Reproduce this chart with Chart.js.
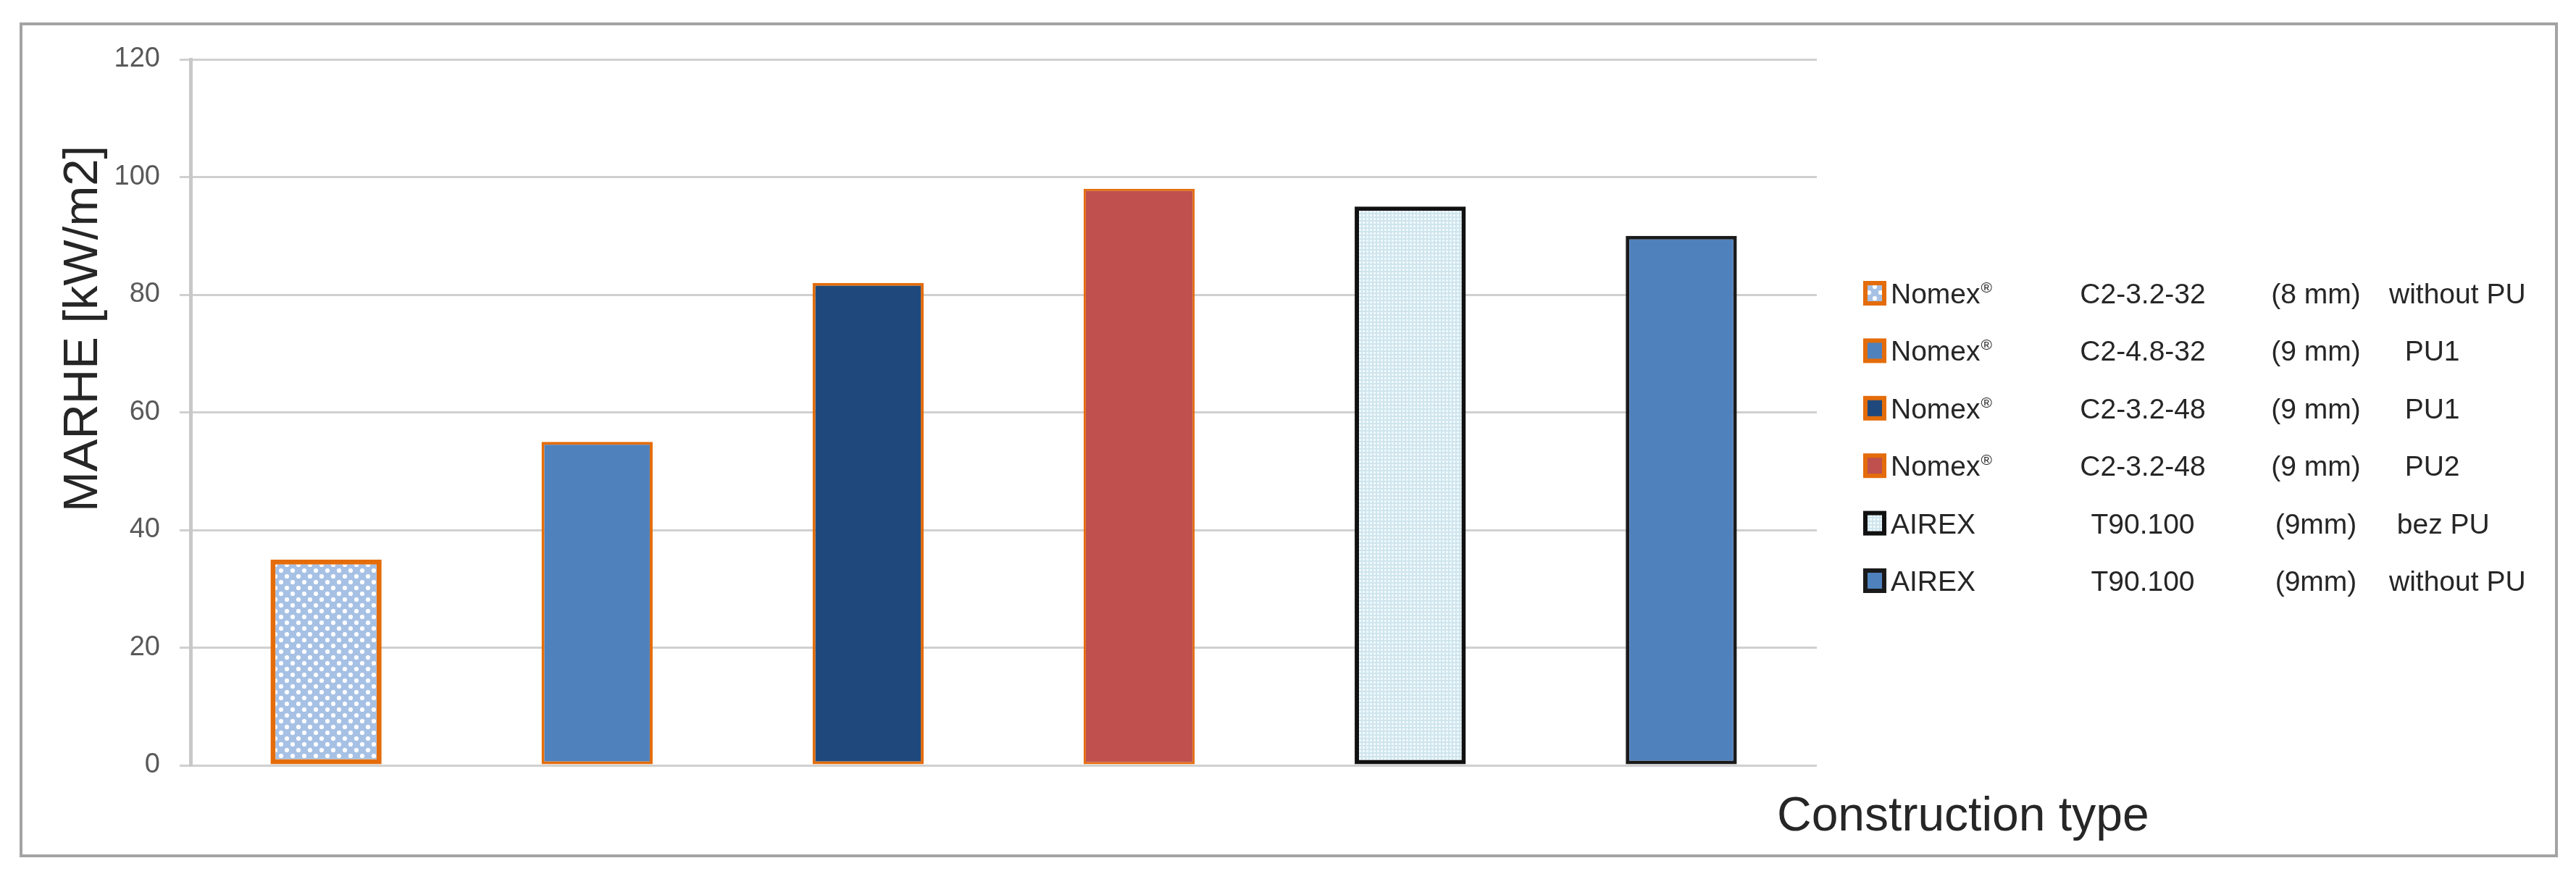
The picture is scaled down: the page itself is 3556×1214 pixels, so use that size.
<!DOCTYPE html>
<html>
<head>
<meta charset="utf-8">
<title>MARHE by construction type</title>
<script src="https://cdn.jsdelivr.net/npm/chart.js@4.4.1/dist/chart.umd.min.js"></script>
<style>
  html, body { margin: 0; padding: 0; background: #ffffff; }
  #wrap { width: 3556px; height: 1214px; }
</style>
</head>
<body>
<div id="wrap"><canvas id="marheChart" width="3556" height="1214"></canvas></div>
<script>
// values
const legendMaterial = ["Nomex®", "Nomex®", "Nomex®", "Nomex®", "AIREX", "AIREX"];
const legendCode = ["C2-3.2-32", "C2-4.8-32", "C2-3.2-48", "C2-3.2-48", "T90.100", "T90.100"];
const legendCore = ["(8 mm)", "(9 mm)", "(9 mm)", "(9 mm)", "(9mm)", "(9mm)"];
const legendNote = ["without PU", "  PU1", "  PU1", "  PU2", " bez PU", "without PU"];
const marhe = [35, 55, 82, 98, 95, 90];
const yTicks = [0, 20, 40, 60, 80, 100, 120];
const yTitle = "MARHE [kW/m2]";
const xTitle = "Construction type";

const categories = legendMaterial.map((m, i) =>
  [m, legendCode[i], legendCore[i], legendNote[i].trim()].join(" ")
);

const FONT = "'Liberation Sans', Arial, sans-serif";
const canvas = document.getElementById("marheChart");
const ctx = canvas.getContext("2d");

// dotted fill of the first bar (white dots on light blue)
const makeDots = () => {
  const t = document.createElement("canvas");
  t.width = 16;
  t.height = 16;
  const g = t.getContext("2d");
  g.fillStyle = "#a7c1e5";
  g.fillRect(0, 0, 16, 16);
  g.fillStyle = "#ffffff";
  [[4, 4], [12, 12]].forEach(([x, y]) => {
    g.beginPath();
    g.arc(x, y, 3.1, 0, Math.PI * 2);
    g.fill();
  });
  return ctx.createPattern(t, "repeat");
};

// fine grid fill of the AIREX bar without PU
const makeFine = () => {
  const t = document.createElement("canvas");
  t.width = 5;
  t.height = 5;
  const g = t.getContext("2d");
  g.fillStyle = "#cfe5ee";
  g.fillRect(0, 0, 5, 5);
  g.fillStyle = "#f1f9fb";
  g.fillRect(1, 1, 3, 3);
  return ctx.createPattern(t, "repeat");
};

const fills = [makeDots(), "#4f81bd", "#1f497d", "#c0504d", makeFine(), "#4f81bd"];
const edges = ["#e46c0a", "#e46c0a", "#e46c0a", "#e46c0a", "#111111", "#1a1a1a"];
const edgeWidths = [7, 4, 4, 3, 6, 5];

const framePlugin = {
  id: "frame",
  beforeDraw(chart) {
    const c = chart.ctx;
    c.save();
    c.fillStyle = "#ffffff";
    c.fillRect(0, 0, chart.width, chart.height);
    c.strokeStyle = "#a3a3a3";
    c.lineWidth = 4;
    c.strokeRect(29, 33, 3500, 1149);
    c.restore();
  },
};

const titlesPlugin = {
  id: "titles",
  afterDraw(chart) {
    const c = chart.ctx;
    c.save();
    c.fillStyle = "#262626";
    c.font = "67px " + FONT;
    c.textBaseline = "alphabetic";

    // y title, rotated
    c.save();
    c.translate(134, 454);
    c.rotate(-Math.PI / 2);
    c.textAlign = "center";
    c.fillText(yTitle, 0, 0);
    c.restore();

    c.font = "66px " + FONT;
    c.textAlign = "left";
    c.fillText(xTitle, 2453, 1147);
    c.restore();
  },
};

const legendPlugin = {
  id: "sideLegend",
  afterDraw(chart) {
    const c = chart.ctx;
    const ds = chart.data.datasets[0];
    c.save();
    legendMaterial.forEach((mat, i) => {
      const cy = 405 + i * 79.4;
      // marker box
      c.fillStyle = ds.borderColor[i];
      c.fillRect(2572, cy - 17, 32, 34);
      c.fillStyle = ds.backgroundColor[i];
      c.fillRect(2578, cy - 11, 20, 22);

      c.fillStyle = "#262626";
      c.font = "39px " + FONT;
      c.textBaseline = "alphabetic";
      const base = cy + 14;
      c.textAlign = "left";
      if (mat.endsWith("®")) {
        const word = mat.slice(0, -1);
        c.fillText(word, 2610, base);
        const w = c.measureText(word).width;
        c.font = "21px " + FONT;
        c.fillText("®", 2610 + w + 1, base - 15);
        c.font = "39px " + FONT;
      } else {
        c.fillText(mat, 2610, base);
      }
      c.textAlign = "center";
      c.fillText(legendCode[i], 2958, base);
      c.fillText(legendCore[i], 3197, base);
      c.textAlign = "left";
      c.fillText(legendNote[i], 3298, base);
    });
    c.restore();
  },
};

new Chart(canvas, {
  type: "bar",
  data: {
    labels: categories,
    datasets: [
      {
        data: marhe,
        backgroundColor: fills,
        borderColor: edges,
        borderWidth: edgeWidths,
        borderSkipped: false,
        barPercentage: 0.41,
        categoryPercentage: 1,
      },
    ],
  },
  options: {
    responsive: false,
    animation: false,
    devicePixelRatio: 1,
    layout: { padding: { left: 0, top: 82, right: 1048, bottom: 157 } },
    plugins: {
      legend: { display: false },
      tooltip: { enabled: false },
    },
    scales: {
      x: { display: false },
      y: {
        min: 0,
        max: 120,
        afterFit(scale) {
          scale.width = 263;
        },
        afterBuildTicks(scale) {
          scale.ticks = yTicks.map((v) => ({ value: v }));
        },
        ticks: {
          color: "#595959",
          font: { size: 38, family: FONT },
          padding: 27,
        },
        grid: { color: "#d0d0d0", lineWidth: 3, tickLength: 15 },
        border: { color: "#c8c8c8", width: 5 },
      },
    },
  },
  plugins: [framePlugin, titlesPlugin, legendPlugin],
});
</script>
</body>
</html>
